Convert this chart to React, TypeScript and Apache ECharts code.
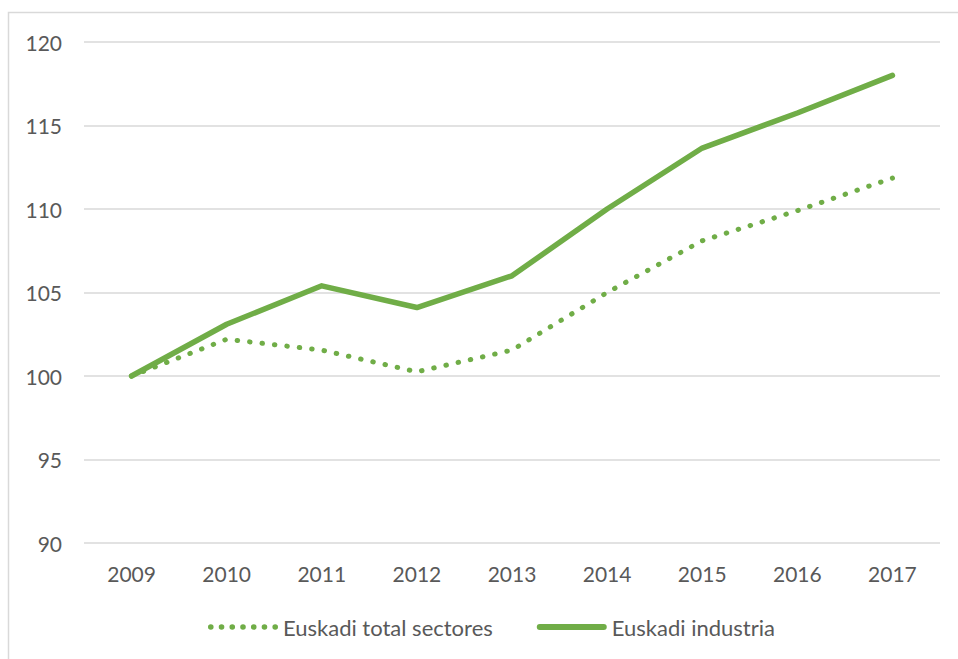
import React, { useEffect, useRef } from "react";
import * as echarts from "echarts";

const years = ["2009", "2010", "2011", "2012", "2013", "2014", "2015", "2016", "2017"];
const totalSectores = [100, 102.2, 101.55, 100.25, 101.55, 105.0, 108.1, 109.9, 111.85];
const industria = [100, 103.1, 105.4, 104.1, 106.0, 110.0, 113.65, 115.75, 118.0];
const seriesNames = ["Euskadi total sectores", "Euskadi industria"];

const GREEN = "#70AD47";
const FONT = "Lato, 'Open Sans', sans-serif";

function dotsPath(): string {
  const n = 7;
  const w = 70;
  const r = 2.8;
  const step = (w - 2 * r) / (n - 1);
  let d = "";
  for (let i = 0; i < n; i++) {
    const cx = r + i * step;
    d += `M${cx - r},3a${r},${r} 0 1,0 ${2 * r},0a${r},${r} 0 1,0 ${-2 * r},0Z`;
  }
  d += "M0,0L0.001,0ZM70,6L69.999,6Z";
  return "path://" + d;
}
const solidPath = "path://M3,0H67A3,3 0 0 1 67,6H3A3,3 0 0 1 3,0Z";

export default function App() {
  const ref = useRef<HTMLDivElement>(null);
  useEffect(() => {
    const chart = echarts.init(ref.current!, null, { renderer: "svg" });
    chart.setOption({
      animation: false,
      backgroundColor: "#ffffff",
      textStyle: { fontFamily: FONT },
      graphic: [
        {
          type: "rect",
          shape: { x: 8.5, y: 12.5, width: 1200, height: 900 },
          style: { fill: "none", stroke: "#d9d9d9", lineWidth: 1.5 },
          silent: true,
        },
      ],
      grid: { left: 84, right: 18, top: 42, bottom: 116, containLabel: false },
      xAxis: {
        type: "category",
        data: years,
        boundaryGap: true,
        axisLine: { show: false },
        axisTick: { show: false },
        axisLabel: { color: "#595959", fontSize: 21, margin: 20, fontFamily: FONT },
      },
      yAxis: {
        type: "value",
        min: 90,
        max: 120,
        interval: 5,
        axisLine: { show: false },
        axisTick: { show: false },
        splitLine: { lineStyle: { color: "#d9d9d9", width: 1.5 } },
        axisLabel: { color: "#595959", fontSize: 21, margin: 22, fontFamily: FONT },
      },
      legend: {
        top: 611,
        left: 203,
        itemWidth: 70,
        itemHeight: 6,
        itemGap: 44,
        textStyle: { color: "#595959", fontSize: 22, fontFamily: FONT },
        data: [
          { name: seriesNames[0], icon: dotsPath(), itemStyle: { color: GREEN } },
          { name: seriesNames[1], icon: solidPath, itemStyle: { color: GREEN } },
        ],
      },
      series: [
        {
          name: seriesNames[0],
          type: "line",
          data: totalSectores,
          symbol: "none",
          lineStyle: { color: GREEN, width: 5, type: [0.5, 12], cap: "round" },
          itemStyle: { color: GREEN },
        },
        {
          name: seriesNames[1],
          type: "line",
          data: industria,
          symbol: "none",
          lineStyle: { color: GREEN, width: 5.5, cap: "round", join: "round" },
          itemStyle: { color: GREEN },
        },
      ],
    });
    return () => chart.dispose();
  }, []);
  return (
    <div
      ref={ref}
      style={{ position: "fixed", left: 0, top: 0, width: 958, height: 659 }}
    />
  );
}
